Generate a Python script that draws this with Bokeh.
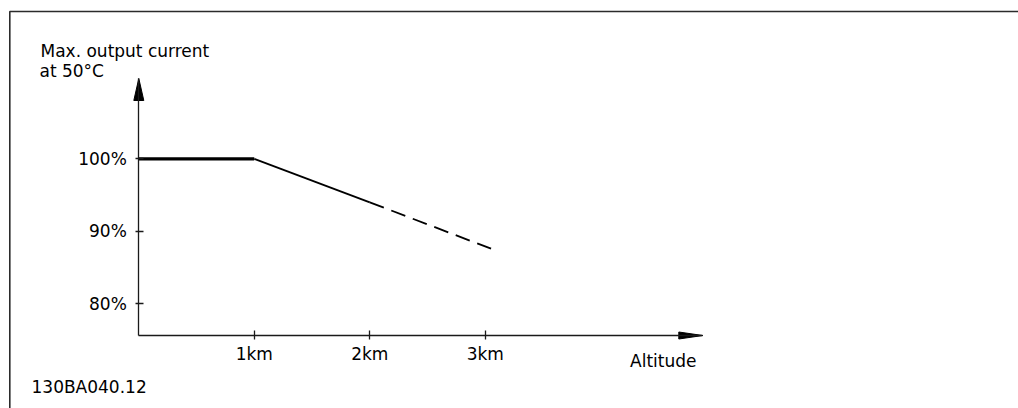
from bokeh.plotting import figure
from bokeh.models import Range1d, LinearAxis, FixedTicker, Label
from bokeh.embed import file_html
from bokeh.resources import INLINE

# ---- data ----
flat_km = [0, 1]
flat_pct = [100, 100]
solid_km = [1, 2]
solid_pct = [100, 94]
dashed_km = [2, 3.05]
dashed_pct = [94, 87.6]

x_ticks = [1, 2, 3]
x_tick_labels = ["1km", "2km", "3km"]
y_ticks = [80, 90, 100]
y_tick_labels = ["80%", "90%", "100%"]

y_title_1 = "Max. output current"
y_title_2 = "at 50°C"
x_title = "Altitude"
doc_code = "130BA040.12"

# ---- geometry (pixels within the canvas) ----
W, H = 1018, 408
ORIGIN_FX = 138.3      # x pixel of 0 km
PX_PER_KM = 115.5
FY_100 = 158.3         # y pixel of 100 %
PX_PER_PCT = 7.25
XAXIS_FY = 335.0
YTIP_FY = 78.0
XTIP_FX = 702.3


def dx(fx):
    return (fx - ORIGIN_FX) / PX_PER_KM


def dy(fy):
    return 100 + (FY_100 - fy) / PX_PER_PCT


x_start, x_end = dx(0), dx(W)
y_start, y_end = dy(H), dy(0)
xaxis_val = dy(XAXIS_FY)
ytip_val = dy(YTIP_FY)
xtip_val = dx(XTIP_FX)

FONT = "DejaVu Sans"
FSIZE = "17px"

p = figure(width=W, height=H, x_range=Range1d(x_start, x_end), y_range=Range1d(y_start, y_end),
           output_backend="svg", toolbar_location=None, min_border=0,
           x_axis_type=None, y_axis_type=None)
p.outline_line_color = None
p.background_fill_color = "white"
p.border_fill_color = "white"
p.xgrid.visible = False
p.ygrid.visible = False

axis_color = "#1a1a1a"

yaxis = LinearAxis(fixed_location=0, bounds=(xaxis_val, ytip_val),
                   ticker=FixedTicker(ticks=y_ticks),
                   major_label_overrides={t: l for t, l in zip(y_ticks, y_tick_labels)})
yaxis.axis_line_color = axis_color
yaxis.axis_line_width = 1.3
yaxis.major_tick_line_color = axis_color
yaxis.major_tick_line_width = 1.3
yaxis.major_tick_in = 5
yaxis.major_tick_out = 3
yaxis.minor_tick_line_color = None
yaxis.major_label_standoff = 9
yaxis.major_label_text_font = FONT
yaxis.major_label_text_font_size = FSIZE
yaxis.major_label_text_color = "black"
p.add_layout(yaxis, "left")

xaxis = LinearAxis(fixed_location=xaxis_val, bounds=(0, xtip_val),
                   ticker=FixedTicker(ticks=x_ticks),
                   major_label_overrides={t: l for t, l in zip(x_ticks, x_tick_labels)})
xaxis.axis_line_color = axis_color
xaxis.axis_line_width = 1.3
xaxis.major_tick_line_color = axis_color
xaxis.major_tick_line_width = 1.3
xaxis.major_tick_in = 5
xaxis.major_tick_out = 4
xaxis.minor_tick_line_color = None
xaxis.major_label_standoff = 4
xaxis.major_label_text_font = FONT
xaxis.major_label_text_font_size = FSIZE
xaxis.major_label_text_color = "black"
p.add_layout(xaxis, "below")

# arrow heads
p.patch([dx(ORIGIN_FX - 5), 0, dx(ORIGIN_FX + 5)],
        [dy(YTIP_FY + 22), ytip_val, dy(YTIP_FY + 22)],
        fill_color="black", line_color="black", line_width=1)
p.patch([dx(XTIP_FX - 24), xtip_val, dx(XTIP_FX - 24)],
        [dy(XAXIS_FY - 3.5), xaxis_val, dy(XAXIS_FY + 3.5)],
        fill_color="black", line_color="black", line_width=1)

# data lines
p.line(flat_km, flat_pct, line_color="black", line_width=3.2)
p.line(solid_km, solid_pct, line_color="black", line_width=1.8)
p.line(dashed_km, dashed_pct, line_color="black", line_width=1.8, line_dash="15 8")

# texts
def add_label(fx, fy, text, align="left"):
    p.add_layout(Label(x=dx(fx), y=dy(fy), text=text, text_align=align,
                       text_baseline="alphabetic", text_font=FONT,
                       text_font_size=FSIZE, text_color="black"))

add_label(40, 50, y_title_1)
add_label(39, 70, y_title_2)
add_label(696, 360, x_title, align="right")
add_label(31, 386, doc_code)

# drawing frame (top and left edges, meeting at the corner)
p.line([dx(9.3), dx(9.3), dx(W + 10)], [dy(H + 10), dy(11), dy(11)],
       line_color="#2b2b2b", line_width=1.6)

open("out.html", "w").write(file_html(p, INLINE))
